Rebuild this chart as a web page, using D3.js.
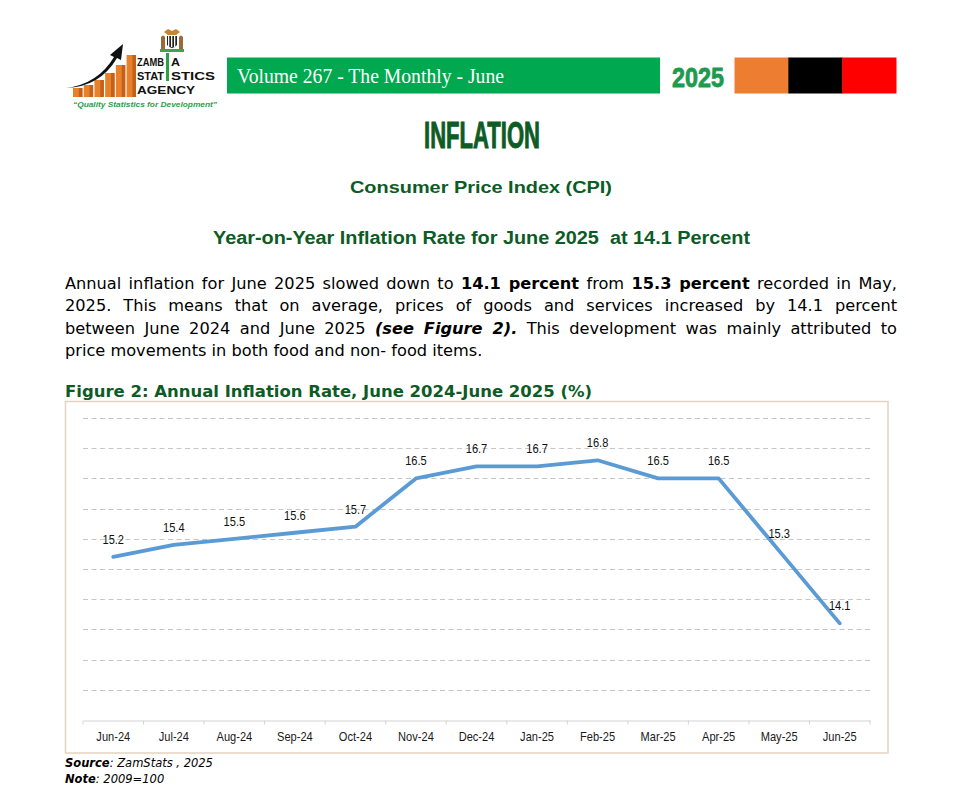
<!DOCTYPE html>
<html>
<head>
<meta charset="utf-8">
<script src="https://cdn.jsdelivr.net/npm/d3@7/dist/d3.min.js"></script>
<style>
  html, body { margin: 0; padding: 0; background: #ffffff; }
  svg { display: block; }
</style>
</head>
<body>
<svg id="page" width="963" height="809"></svg>
<script>
// ---------------- DATA ----------------
const categories = ["Jun-24", "Jul-24", "Aug-24", "Sep-24", "Oct-24", "Nov-24", "Dec-24",
                    "Jan-25", "Feb-25", "Mar-25", "Apr-25", "May-25", "Jun-25"];
const inflationRate = [15.2, 15.4, 15.5, 15.6, 15.7, 16.5, 16.7, 16.7, 16.8, 16.5, 16.5, 15.3, 14.1];
const yDomain = [12.5, 17.5];
const logoBarTops = [88, 85, 80, 73, 65, 55];

const headerText = "Volume 267 - The Monthly - June";
const headerYear = "2025";
const flagColors = ["#ED7D31", "#000000", "#FF0000"];
const titleText = "INFLATION";
const subTitle1 = "Consumer Price Index (CPI)";
const subTitle2 = "Year-on-Year Inflation Rate for June 2025  at 14.1 Percent";
const paragraphLines = [
  [["Annual inflation for June 2025 slowed down to ", "n"], ["14.1 percent", "b"], [" from ", "n"], ["15.3 percent", "b"], [" recorded in May,", "n"]],
  [["2025. This means that on average, prices of goods and services increased by 14.1 percent", "n"]],
  [["between June 2024 and June 2025 ", "n"], ["(see Figure 2).", "bi"], [" This development was mainly attributed to", "n"]],
  [["price movements in both food and non- food items.", "n"]]
];
const figureTitle = "Figure 2: Annual Inflation Rate, June 2024-June 2025 (%)";

// ---------------- SETUP ----------------
const svg = d3.select("#page");
const darkGreen = "#0d5b25";
// narrow a text element horizontally (mimics a condensed face)
function narrow(sel, f) {
  sel.each(function () {
    const w = this.getComputedTextLength();
    d3.select(this).attr("textLength", w * f).attr("lengthAdjust", "spacingAndGlyphs");
  });
}

// ---------------- LOGO ----------------
const logo = svg.append("g");
const barX = d3.scaleBand().domain(d3.range(logoBarTops.length)).range([73, 136]).paddingInner(0.12);
logo.selectAll("rect.lb").data(logoBarTops).join("rect")
  .attr("x", (d, i) => barX(i)).attr("y", d => d)
  .attr("width", barX.bandwidth()).attr("height", d => 97 - d)
  .attr("fill", "#E8822A");
logo.selectAll("rect.ls").data(logoBarTops).join("rect")
  .attr("x", (d, i) => barX(i) + barX.bandwidth() * 0.62).attr("y", d => d)
  .attr("width", barX.bandwidth() * 0.38).attr("height", d => 97 - d)
  .attr("fill", "#C4601A");
// arrow swoosh
logo.append("path")
  .attr("d", "M66,88 Q98,84 114,57 L110,55 L123,44 L121,60 L117,58 Q100,87 66,88 Z")
  .attr("fill", "#111");
// coat of arms (stylised)
const coa = logo.append("g");
coa.append("path").attr("d", "M164,32 L168,29 L172,31 L176,29 L180,32 L176,35 L168,35 Z").attr("fill", "#C8862E");
coa.append("path").attr("d", "M167,36 L177,36 L177,45 Q172,51 167,45 Z").attr("fill", "#222");
coa.selectAll("rect.st").data([0, 1, 2]).join("rect")
  .attr("x", d => 168 + d * 3).attr("y", 36).attr("width", 1.3).attr("height", 11).attr("fill", "#fff");
coa.append("path").attr("d", "M161,37 Q163,34 165,37 L165,49 L161,49 Z").attr("fill", "#9B6A3A");
coa.append("path").attr("d", "M179,37 Q181,34 183,37 L183,49 L179,49 Z").attr("fill", "#9B6A3A");
coa.append("rect").attr("x", 160).attr("y", 49).attr("width", 24).attr("height", 3).attr("fill", "#3FA34D");
// green "I" stroke
logo.append("rect").attr("x", 166).attr("y", 53).attr("width", 3).attr("height", 28).attr("fill", "#2E9E48");
const logoFont = "'Liberation Sans', Arial, sans-serif";
function logoText(t, x, y, w, size) {
  logo.append("text").attr("x", x).attr("y", y).text(t)
    .attr("font-family", logoFont).attr("font-weight", "bold").attr("font-size", size)
    .attr("fill", "#111").attr("textLength", w).attr("lengthAdjust", "spacingAndGlyphs");
}
logoText("ZAMB", 137, 65.5, 27, 11.5);
logoText("A", 171, 65.5, 9, 11.5);
logoText("STAT", 137, 79.5, 27, 11.5);
logoText("STICS", 171, 79.5, 44, 11.5);
logoText("AGENCY", 137, 93.5, 58, 11.5);
logo.append("text").attr("x", 73).attr("y", 106.5).text("\u201CQuality Statistics for Development\u201D")
  .attr("font-family", logoFont).attr("font-weight", "bold").attr("font-style", "italic")
  .attr("font-size", 8).attr("fill", "#2E9E48")
  .attr("textLength", 144).attr("lengthAdjust", "spacingAndGlyphs");

// ---------------- HEADER BAR ----------------
svg.append("rect").attr("x", 227).attr("y", 57.5).attr("width", 433).attr("height", 36).attr("fill", "#00A94F");
svg.append("text").attr("x", 237).attr("y", 83).text(headerText)
  .attr("font-family", "'Liberation Serif', 'Times New Roman', serif").attr("font-size", 21)
  .attr("fill", "#ffffff").attr("textLength", 267).attr("lengthAdjust", "spacingAndGlyphs");
svg.append("text").attr("x", 672).attr("y", 86.7).text(headerYear)
  .attr("font-family", "'Liberation Sans Narrow', 'Liberation Sans', sans-serif").attr("font-weight", "bold")
  .attr("font-size", 28).attr("fill", "#1C9B4F").attr("stroke", "#1C9B4F").attr("stroke-width", 0.8)
  .attr("textLength", 52).attr("lengthAdjust", "spacingAndGlyphs");
const flagX = d3.scaleBand().domain(flagColors).range([734.5, 896]);
svg.selectAll("rect.flag").data(flagColors).join("rect")
  .attr("x", d => flagX(d)).attr("y", 57.5).attr("width", flagX.bandwidth() + 0.5).attr("height", 36)
  .attr("fill", d => d);

// ---------------- TITLES ----------------
svg.append("text").attr("x", 424).attr("y", 148).text(titleText)
  .attr("font-family", "'Liberation Sans Narrow', 'Liberation Sans', sans-serif").attr("font-weight", "bold")
  .attr("font-size", 36).attr("fill", darkGreen).attr("stroke", darkGreen).attr("stroke-width", 1)
  .attr("textLength", 116).attr("lengthAdjust", "spacingAndGlyphs");
svg.append("text").attr("x", 350).attr("y", 193).text(subTitle1)
  .attr("font-family", "'Liberation Sans', Arial, sans-serif").attr("font-weight", "bold")
  .attr("font-size", 17).attr("fill", darkGreen)
  .attr("textLength", 262).attr("lengthAdjust", "spacingAndGlyphs");
svg.append("text").attr("x", 213).attr("y", 244).text(subTitle2)
  .attr("font-family", "'Liberation Sans', Arial, sans-serif").attr("font-weight", "bold")
  .attr("font-size", 17.5).attr("fill", darkGreen).style("white-space", "pre")
  .attr("textLength", 537).attr("lengthAdjust", "spacingAndGlyphs");

// ---------------- PARAGRAPH (justified) ----------------
const paraFont = "'DejaVu Sans', Verdana, sans-serif";
const paraBaselines = [288.5, 311, 333.5, 355.5];
const paraLeft = 65, paraRight = 897;
paragraphLines.forEach((segs, li) => {
  const t = svg.append("text").attr("x", paraLeft).attr("y", paraBaselines[li])
    .attr("font-family", paraFont).attr("font-size", 16.2).attr("fill", "#000")
    .style("white-space", "pre");
  segs.forEach(([s, st]) => {
    const ts = t.append("tspan").text(s);
    if (st.includes("b")) ts.attr("font-weight", "bold");
    if (st.includes("i")) ts.attr("font-style", "italic");
  });
  if (li < paragraphLines.length - 1) {
    const full = segs.map(s => s[0]).join("");
    const spaces = (full.match(/ /g) || []).length;
    const natural = t.node().getComputedTextLength();
    t.style("word-spacing", ((paraRight - paraLeft - natural) / spaces) + "px");
  }
});

// ---------------- FIGURE TITLE ----------------
svg.append("text").attr("x", 65).attr("y", 397).text(figureTitle)
  .attr("font-family", paraFont).attr("font-weight", "bold").attr("font-size", 16.5)
  .attr("fill", darkGreen)
  .attr("textLength", 527).attr("lengthAdjust", "spacingAndGlyphs");

// ---------------- CHART ----------------
svg.append("rect").attr("x", 65.5).attr("y", 401.5).attr("width", 822.5).attr("height", 351.5)
  .attr("fill", "#fff").attr("stroke", "#E4D3C2").attr("stroke-width", 1.5);

const x = d3.scaleBand().domain(categories).range([83, 870]);
const y = d3.scaleLinear().domain(yDomain).range([720, 418]);
const chartFont = "'Liberation Sans', Arial, sans-serif";

// gridlines
const gridTicks = y.ticks(10).filter(v => v > yDomain[0]);
svg.append("g").selectAll("line").data(gridTicks).join("line")
  .attr("x1", 83).attr("x2", 870)
  .attr("y1", d => Math.round(y(d)) + 0.5).attr("y2", d => Math.round(y(d)) + 0.5)
  .attr("stroke", "#C6C6C6").attr("stroke-width", 1).attr("stroke-dasharray", "5,3.5");

// x axis
const xAxis = d3.axisBottom(x).tickSize(0).tickPadding(11);
const axG = svg.append("g").attr("transform", "translate(0,720.5)").call(xAxis);
axG.select(".domain").attr("stroke", "#D4D4D4").attr("stroke-width", 1.2);
axG.selectAll(".tick text").attr("font-family", chartFont).attr("font-size", 13.5).attr("fill", "#1a1a1a")
  .call(narrow, 0.82);
// tick marks at category boundaries
const boundaries = categories.map(c => x(c)).concat([x.range()[1]]);
axG.selectAll("line.bnd").data(boundaries).join("line")
  .attr("class", "bnd")
  .attr("x1", d => d).attr("x2", d => d).attr("y1", 0).attr("y2", 4)
  .attr("stroke", "#D4D4D4").attr("stroke-width", 1);

// line
const cx = c => x(c) + x.bandwidth() / 2;
const line = d3.line().x((d, i) => cx(categories[i])).y(d => y(d));
svg.append("path").datum(inflationRate).attr("d", line)
  .attr("fill", "none").attr("stroke", "#5B9BD5").attr("stroke-width", 3.8)
  .attr("stroke-linejoin", "round").attr("stroke-linecap", "round");

// data labels
svg.append("g").selectAll("text").data(inflationRate).join("text")
  .attr("x", (d, i) => cx(categories[i])).attr("y", d => y(d) - 13)
  .attr("text-anchor", "middle").text(d => d3.format(".1f")(d))
  .attr("font-family", chartFont).attr("font-size", 13.5).attr("fill", "#111")
  .call(narrow, 0.82);

// ---------------- SOURCE / NOTE ----------------
const src = svg.append("text").attr("x", 65).attr("y", 766.5)
  .attr("font-family", paraFont).attr("font-size", 11.5).attr("font-style", "italic").attr("fill", "#000");
src.append("tspan").attr("font-weight", "bold").text("Source");
src.append("tspan").text(": ZamStats , 2025");
const note = svg.append("text").attr("x", 65).attr("y", 782.5)
  .attr("font-family", paraFont).attr("font-size", 11.5).attr("font-style", "italic").attr("fill", "#000");
note.append("tspan").attr("font-weight", "bold").text("Note");
note.append("tspan").text(": 2009=100");
</script>
</body>
</html>
